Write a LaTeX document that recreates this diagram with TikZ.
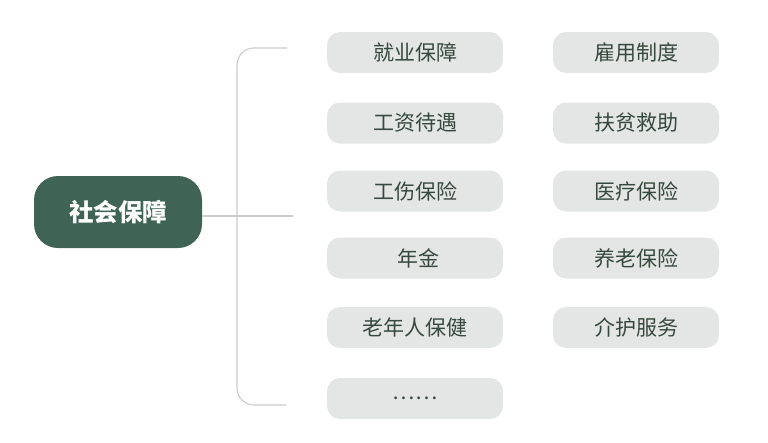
\documentclass[tikz,border=0pt]{standalone}
\usepackage{fontspec}
\newfontfamily\cjk{Noto Sans CJK SC}
\definecolor{maingreen}{HTML}{3F6456}
\definecolor{pillgray}{HTML}{E3E6E4}
\definecolor{pilltext}{HTML}{37493F}
\definecolor{linegray}{HTML}{C9CDCB}
\begin{document}
\begin{tikzpicture}[x=1pt,y=-1pt,
  mainbox/.style={fill=maingreen,rounded corners=24pt,minimum width=168pt,minimum height=72pt,inner sep=0pt,text=white,font=\cjk\bfseries\fontsize{24.5}{28}\selectfont},
  leftpill/.style={fill=pillgray,rounded corners=13pt,minimum width=176pt,minimum height=41pt,inner sep=0pt,text=pilltext,font=\cjk\fontsize{21}{25}\selectfont},
  rightpill/.style={leftpill,minimum width=166pt},
  conn/.style={draw=linegray,line width=1.1pt}]
\useasboundingbox (0,0) rectangle (768,442);
\node[mainbox] (m) at (118,212) {社会保障};
\node[leftpill] (l1) at (415,52.5) {就业保障};
\node[leftpill] (l2) at (415,123) {工资待遇};
\node[leftpill] (l3) at (415,191) {工伤保险};
\node[leftpill] (l4) at (415,258) {\hspace{6pt}年金};
\node[leftpill] (l5) at (415,327.5) {老年人保健};
\node[leftpill] (l6) at (415,398.5) {……};
\node[rightpill] (r1) at (636,52.5) {雇用制度};
\node[rightpill] (r2) at (636,123) {扶贫救助};
\node[rightpill] (r3) at (636,191) {医疗保险};
\node[rightpill] (r4) at (636,258) {养老保险};
\node[rightpill] (r5) at (636,327.5) {介护服务};
\coordinate (tj) at (293,216);
\coordinate (bt) at (287,48);
\coordinate (bb) at (286,405);
\draw[conn] (m.east |- tj) -- (tj);
\draw[conn,rounded corners=17pt] (bt) -- (237,48) -- (237,405) -- (bb);
\end{tikzpicture}
\end{document}
